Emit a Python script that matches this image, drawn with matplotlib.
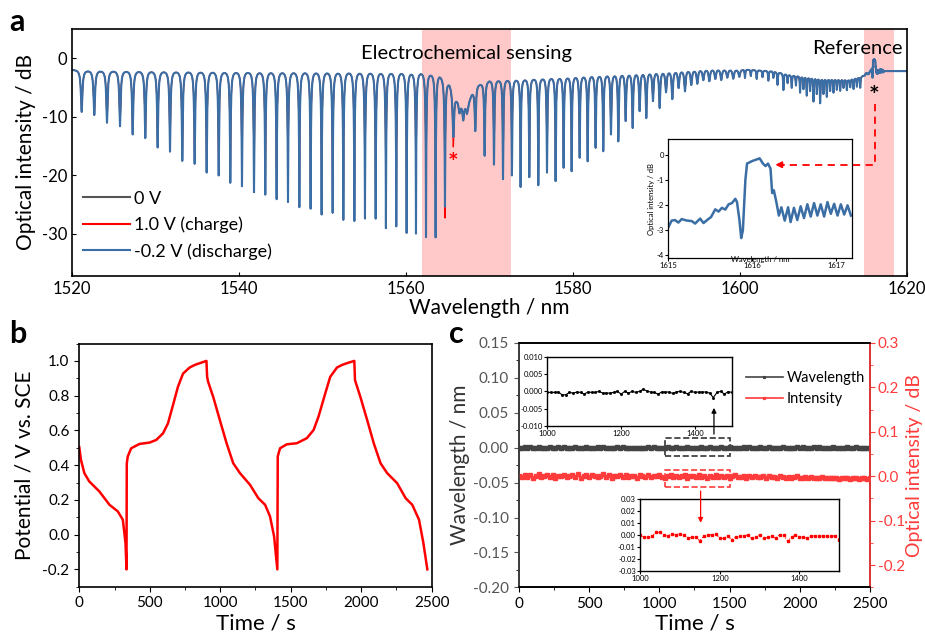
import numpy as np
import matplotlib
matplotlib.use('Agg')
import matplotlib.pyplot as plt
from matplotlib.patches import FancyArrowPatch, Rectangle
from matplotlib.lines import Line2D
from matplotlib.ticker import MultipleLocator

plt.rcParams['font.family'] = ['Lato', 'DejaVu Sans']
plt.rcParams['axes.unicode_minus'] = False
plt.rcParams['axes.linewidth'] = 1.2

# ---------------- Panel a data ----------------
# top (envelope) level of the transmission spectrum
env_wl = [1520, 1540, 1562, 1564.0, 1565.2, 1566.0, 1566.5, 1567.4, 1567.9, 1568.6, 1570, 1575,
          1581, 1589, 1597, 1601, 1604, 1606, 1610, 1613, 1615.0]
env_db = [-1.9, -2.0, -2.0, -2.4, -3.8, -6.4, -7.6, -7.8, -5.8, -4.3, -3.5, -3.2,
          -2.7, -2.1, -1.7, -1.9, -2.2, -2.8, -3.4, -3.6, -2.9]

# resonance dips (wavelength / nm, bottom level / dB) for -0.2 V (discharge)
dip1_wl = [1521.16, 1522.67, 1524.19, 1525.75, 1527.27, 1528.78, 1530.26, 1531.74, 1533.21,
           1534.69, 1536.13, 1537.57, 1538.96, 1540.36, 1541.80, 1543.15, 1544.51, 1545.87,
           1547.23, 1548.58, 1549.90, 1551.22, 1552.50, 1553.82, 1555.09, 1556.37, 1557.60,
           1558.84, 1560.08, 1561.20, 1562.40, 1563.55, 1564.67, 1565.67]
dip1_db = [-9.1, -9.6, -10.9, -11.5, -12.9, -13.5, -15.1, -15.8, -17.4, -17.9, -19.4, -19.9,
           -21.1, -21.7, -22.7, -23.2, -24.0, -24.5, -25.4, -25.5, -26.5, -26.2, -27.4, -27.6,
           -27.4, -27.4, -28.8, -28.5, -29.6, -29.7, -30.3, -30.8, -25.2, -13.2]
dip2_wl = [1566.40, 1566.86, 1567.30, 1568.30, 1569.42, 1570.54, 1571.62, 1572.69, 1573.73,
           1574.77, 1575.85, 1576.89, 1577.92, 1578.88, 1579.84, 1580.80, 1581.76, 1582.71,
           1583.63, 1584.55, 1585.43, 1586.31, 1587.15, 1587.98, 1588.78, 1589.58, 1590.38,
           1591.14, 1591.90, 1592.65, 1593.41, 1594.17, 1594.89, 1595.61, 1596.33, 1597.05,
           1597.76, 1598.48, 1599.20, 1599.92]
dip2_db = [-9.0, -10.3, -9.2, -12.3, -16.5, -18.0, -20.5, -19.9, -21.9, -20.2, -21.6, -19.4,
           -20.8, -18.5, -19.1, -16.8, -17.4, -15.1, -15.7, -12.8, -14.0, -10.5, -11.7, -8.8,
           -10.0, -7.1, -8.3, -5.6, -6.8, -4.9, -5.5, -4.4, -4.2, -3.6, -3.8, -3.4, -3.6,
           -3.2, -3.4, -3.1]
dip3_wl = [1600.6, 1601.3, 1602.0, 1602.7, 1603.4, 1604.0, 1604.5, 1605.2, 1605.7, 1606.2,
           1606.7, 1607.2, 1607.6, 1608.0, 1608.4, 1608.8, 1609.2, 1609.6, 1610.0, 1610.4,
           1610.8, 1611.2, 1611.6, 1612.0, 1612.4, 1612.8, 1613.2, 1613.6, 1614.0, 1614.4]
dip3_db = [-3.3, -3.0, -3.5, -3.2, -3.8, -3.3, -4.5, -5.4, -4.2, -5.0, -4.6, -5.8, -5.2, -6.3,
           -5.5, -7.3, -6.0, -7.6, -6.0, -6.5, -5.5, -5.8, -5.3, -5.5, -5.0, -5.4, -4.9, -5.2,
           -4.8, -5.0]
# 1.0 V (charge) differs at two dips
red_dip_wl = [1564.67, 1565.67]
red_dip_db = [-27.2, -14.9]

# reference grating peak (also shown in the inset)
ref_wl = [1615.0, 1615.04, 1615.08, 1615.12, 1615.16, 1615.22, 1615.28, 1615.32, 1615.38, 1615.42,
          1615.47, 1615.51, 1615.56, 1615.60, 1615.64, 1615.68, 1615.72, 1615.76, 1615.80, 1615.82,
          1615.85, 1615.87, 1615.89, 1615.92, 1615.94, 1616.0, 1616.06, 1616.09, 1616.13, 1616.16,
          1616.19, 1616.22, 1616.24, 1616.26, 1616.29, 1616.32, 1616.35, 1616.39, 1616.43, 1616.46,
          1616.50, 1616.54, 1616.58, 1616.62, 1616.66, 1616.70, 1616.74, 1616.78, 1616.82, 1616.86,
          1616.90, 1616.94, 1616.98, 1617.02, 1617.06, 1617.10, 1617.14, 1617.18]
ref_db = [-2.89, -2.62, -2.60, -2.70, -2.56, -2.62, -2.64, -2.74, -2.54, -2.72,
          -2.58, -2.48, -2.17, -2.26, -2.11, -2.18, -1.97, -1.92, -1.75, -1.88,
          -2.62, -3.32, -3.02, -1.00, -0.34, -0.24, -0.17, -0.13, -0.34, -0.44,
          -0.34, -0.54, -1.52, -1.41, -1.88, -2.42, -2.09, -2.62, -2.09, -2.68,
          -2.11, -2.60, -2.05, -2.52, -1.97, -2.46, -1.92, -2.42, -1.97, -2.46,
          -1.88, -2.35, -1.95, -2.42, -1.97, -2.38, -2.01, -2.42]
tail_wl = [1617.25, 1620.0]
tail_db = [-2.2, -2.2]

# ---------------- Panel b data ----------------
t_b = [0, 12, 36, 71, 142, 214, 273, 309, 328, 335, 337, 344, 368, 427, 499, 546, 594, 629, 665,
       700, 736, 783, 820, 855, 902, 907, 914, 950, 997, 1045, 1092, 1140, 1211, 1270, 1318, 1353,
       1382, 1405, 1408, 1424, 1472, 1543, 1614, 1662, 1697, 1745, 1780, 1828, 1865, 1899, 1951,
       1956, 1994, 2042, 2089, 2137, 2184, 2255, 2315, 2362, 2410, 2441, 2469]
v_b = [0.503, 0.43, 0.354, 0.306, 0.249, 0.172, 0.134, 0.086, -0.048, -0.2, 0.41, 0.45, 0.497,
       0.522, 0.53, 0.545, 0.583, 0.64, 0.746, 0.851, 0.927, 0.962, 0.977, 0.987, 1.0, 0.908,
       0.88, 0.793, 0.66, 0.526, 0.411, 0.354, 0.287, 0.21, 0.172, 0.105, -0.01, -0.2, 0.45,
       0.497, 0.52, 0.526, 0.555, 0.602, 0.679, 0.813, 0.908, 0.962, 0.977, 0.987, 1.0, 0.889,
       0.793, 0.66, 0.526, 0.411, 0.354, 0.296, 0.21, 0.172, 0.086, -0.048, -0.2]

# ---------------- Panel c data ----------------
wl_shift_main = [0.0, -0.3, 0.4, -0.2, 0.6, -0.5, 0.1, 0.3, -0.4, 0.2, -0.1, 0.5, -0.6, 0.0, 0.3,
                 -0.2, 0.4, -0.3, 0.1, -0.5, 0.6, 0.2, -0.3, 0.0, 0.4, -0.4, 0.2, -0.1, 0.3, -0.2,
                 0.5, -0.3, 0.1, 0.0, -0.4, 0.3, -0.2, 0.6, -0.1, 0.2, -0.3, 0.1, -0.5, 0.2, 0.0,
                 -0.2, 0.4, -0.1, 0.3, -0.4, 0.1, 0.2, -0.3, 0.5, -0.2, 0.0, 0.3, -0.6, 0.2, -0.1,
                 0.4, -0.3, 0.1, 0.2, -0.4, 0.5, -0.2, 0.0, 0.3, -0.1, 0.2, -0.5, 0.4, -0.2, 0.1,
                 0.6, -0.3, 0.0, 0.2, -0.4, 0.3, -0.1, 0.5, -0.2, 0.1, -0.3, 0.4, 0.0, -0.2, 0.3,
                 -0.5, 0.2, 0.1, -0.1, 0.4, -0.3, 0.2, 0.0, -0.4, 0.3, -0.2, 0.5, 0.1, -0.3, 0.2,
                 0.8, -0.1, 0.3, -0.4, 0.2, 0.0, -0.2, 0.4, -0.3, 0.1, 0.2, -0.5, 0.3, -0.1, 0.0,
                 0.4, -0.2, 0.1, -0.3, 0.2, 0.0]  # 1e-3 nm
intensity_main = [0, -2, 3, -1, 2, -3, 1, 4, -2, 0, 3, -1, 2, -4, 1, 0, 3, -2, 1, 2, -1, 4, -3, 0,
                  2, -1, 3, 1, -2, 0, 4, -1, 2, -3, 1, 0, 2, -2, 3, -1, 0, 1, -3, 2, 0, -1, 3, -2,
                  1, 0, 2, -1, -3, 0, 2, -2, 1, -1, 0, 2, -3, 0, 1, -2, 2, -1, 0, -3, 1, -1, 2, -2,
                  0, -1, 1, -3, 0, 2, -2, -1, 0, -3, 1, -2, 0, -1, -2, 1, -3, 0, -2, -1, -3, 0, -2,
                  -4, -1, -3, -2, 0, -3, -4, -2, -3, -1, -4, -3, -5, -2, -4, -3, -5, -4, -3, -6, -4,
                  -5, -3, -6, -4, -5, -6, -4, -5, -7, -5]  # 1e-3 dB
wl_shift_zoom = [-0.0003, -0.0003, -0.0003, -0.0002, -0.001, -0.001, -0.0003, -0.0005, -0.0002,
                 -0.0003, -0.0008, -0.0002, -0.0003, -0.0003, 0.0, -0.0005, -0.0005, -0.0005,
                 -0.0003, 0.0, -0.0008, 0.0, -0.0005, 0.0, -0.0003, 0.0, 0.0006, 0.0001, -0.0002,
                 -0.0003, -0.0008, -0.0002, -0.0002, -0.0002, -0.0006, -0.0002, 0.0, -0.0003,
                 -0.0007, 0.0, -0.0003, -0.0002, -0.0002, -0.0002, -0.0005, -0.0018, -0.0003, 0.0,
                 -0.0008, -0.0001, -0.0003]
intensity_zoom = [0.0, -0.002, -0.002, -0.001, 0.002, 0.002, 0.0, -0.001, 0.001, 0.0, 0.001, 0.0,
                  -0.003, -0.002, -0.002, -0.005, -0.001, 0.0, 0.0, 0.001, -0.003, -0.003, -0.001,
                  -0.004, -0.002, -0.001, -0.001, 0.0, -0.003, -0.002, 0.0, -0.003, -0.002, -0.001,
                  -0.003, 0.0, 0.0, -0.005, -0.002, 0.0, -0.002, -0.002, -0.003, -0.001, -0.001,
                  -0.001, -0.001, -0.001, -0.001, -0.001, -0.004]

BLUE = '#3A6EA5'
RED = '#FF0000'
GRAY = '#555555'
PINK = '#FFC9C9'
CRED = '#FF3B3B'

fig = plt.figure(figsize=(9.25, 6.35), dpi=100)

# ================= Panel a =================
axA = fig.add_axes([0.0778, 0.5654, 0.9027, 0.389])
axA.axvspan(1561.9, 1572.6, color=PINK, lw=0, zorder=0)
axA.axvspan(1614.9, 1618.5, color=PINK, lw=0, zorder=0)

lam = np.arange(1520.0, 1615.0, 0.004)


def spectrum(dwl, ddb, gam):
    env = np.interp(lam, env_wl, env_db)
    out = env.copy()
    for w, d, g in zip(dwl, ddb, gam):
        rel = d - np.interp(w, env_wl, env_db)
        a = 1 - 10 ** (rel / 10.0)
        out += 10 * np.log10(1 - a / (1 + ((lam - w) / g) ** 2))
    return out


gam_all = [0.16] * len(dip1_wl) + [0.12] * len(dip2_wl) + [0.05] * len(dip3_wl)
wl_all = dip1_wl + dip2_wl + dip3_wl
db_blue = dip1_db + dip2_db + dip3_db
db_red = list(db_blue)
for w, d in zip(red_dip_wl, red_dip_db):
    db_red[wl_all.index(w)] = d

spec_blue = spectrum(wl_all, db_blue, gam_all)
spec_red = spectrum(wl_all, db_red, gam_all)

x_full = np.concatenate([lam, ref_wl, tail_wl])
for spec, col, lab, lw in [(spec_blue, GRAY, '0 V', 0.9), (spec_red, RED, '1.0 V (charge)', 0.9),
                           (spec_blue, BLUE, '-0.2 V (discharge)', 1.5)]:
    y_full = np.concatenate([spec, ref_db, tail_db])
    axA.plot(x_full, y_full, color=col, lw=lw, label=lab)

axA.set_xlim(1520, 1620)
axA.set_ylim(-37.2, 5.0)
axA.set_xticks([1520, 1540, 1560, 1580, 1600, 1620])
axA.set_yticks([0, -10, -20, -30])
axA.tick_params(direction='in', length=3, labelsize=12)
axA.set_xlabel('Wavelength / nm', fontsize=15, labelpad=1)
axA.set_ylabel('Optical intensity / dB', fontsize=15, labelpad=4)
leg = axA.legend(loc='lower left', bbox_to_anchor=(-0.006, 0.0), frameon=False, fontsize=13,
                 handlelength=2.6, handletextpad=0.2, labelspacing=0.55)
for h in leg.get_lines():
    h.set_linewidth(1.5)
axA.text(1567.2, -0.6, 'Electrochemical sensing', fontsize=14.5, ha='center', va='bottom')
axA.text(1619.5, 0.2, 'Reference', fontsize=14.5, ha='right', va='bottom')
axA.text(1565.6, -18.0, '*', color=RED, fontsize=18, fontweight='bold', ha='center', va='center')
axA.text(1616.1, -6.5, '*', color='black', fontsize=18, fontweight='bold', ha='center', va='center')

# inset of panel a
axAi = fig.add_axes([0.7225, 0.5932, 0.1983, 0.1874])
axAi.plot(ref_wl, ref_db, color=BLUE, lw=1.8)
axAi.set_xlim(1615, 1617.19)
axAi.set_ylim(-4.13, 0.63)
axAi.set_xticks([1615, 1616, 1617])
axAi.set_yticks([0, -1, -2, -3, -4])
axAi.tick_params(labelsize=5.5, length=2, pad=1)
axAi.set_xlabel('Wavelength / nm', fontsize=5.5, labelpad=-10)
axAi.set_ylabel('Optical intensity / dB', fontsize=5.5, labelpad=1)
for s in axAi.spines.values():
    s.set_linewidth(0.9)

fig.add_artist(Line2D([1616.17, 1616.17, 1605.0], [-7.8, -18.2, -18.2], ls='--', lw=1.3,
                      color=RED, transform=axA.transData, dashes=(4, 3)))
fig.add_artist(FancyArrowPatch((1605.6, -18.2), (1603.9, -18.2), arrowstyle='-|>',
                               mutation_scale=9, color=RED, lw=1.3, transform=axA.transData))

# ================= Panel b =================
axB = fig.add_axes([0.0857, 0.076, 0.381, 0.383])
axB.plot(t_b, v_b, color=RED, lw=1.8)
axB.set_xlim(0, 2500)
axB.set_ylim(-0.3, 1.1)
axB.xaxis.set_major_locator(MultipleLocator(500))
axB.xaxis.set_minor_locator(MultipleLocator(250))
axB.set_yticks([-0.2, 0.0, 0.2, 0.4, 0.6, 0.8, 1.0])
axB.set_yticklabels(['-0.2', '0.0', '0.2', '0.4', '0.6', '0.8', '1.0'])
axB.yaxis.set_minor_locator(MultipleLocator(0.1))
axB.tick_params(which='major', direction='out', length=3.5, labelsize=11)
axB.tick_params(which='minor', direction='out', length=2)
axB.set_xlabel('Time / s', fontsize=16, labelpad=2)
axB.set_ylabel('Potential / V vs. SCE', fontsize=15, labelpad=6)

# ================= Panel c =================
axC = fig.add_axes([0.561, 0.075, 0.3795, 0.385])
axC2 = axC.twinx()
t_main = np.linspace(0, 2500, len(wl_shift_main))
t_int = np.linspace(0, 2500, len(intensity_main))
lc1, = axC.plot(t_main, np.array(wl_shift_main) * 1e-3, color='#444444', lw=1.2, marker='s',
                ms=2.2, label='Wavelength')
lc2, = axC2.plot(t_int, np.array(intensity_main) * 1e-3, color=CRED, lw=1.2, marker='s',
                 ms=2.2, label='Intensity')
axC.set_xlim(0, 2500)
axC.set_ylim(-0.2, 0.15)
axC2.set_ylim(-0.25, 0.3)
axC.xaxis.set_major_locator(MultipleLocator(500))
axC.xaxis.set_minor_locator(MultipleLocator(250))
axC.set_yticks([-0.2, -0.15, -0.1, -0.05, 0.0, 0.05, 0.1, 0.15])
axC.set_yticklabels(['-0.20', '-0.15', '-0.10', '-0.05', '0.00', '0.05', '0.10', '0.15'])
axC.yaxis.set_minor_locator(MultipleLocator(0.025))
axC2.set_yticks([-0.2, -0.1, 0.0, 0.1, 0.2, 0.3])
axC2.set_yticklabels(['-0.2', '-0.1', '0.0', '0.1', '0.2', '0.3'])
axC2.yaxis.set_minor_locator(MultipleLocator(0.05))
axC.tick_params(which='major', direction='out', length=3.5, labelsize=11)
axC.tick_params(axis='y', colors='#555555', labelcolor='#555555')
axC.tick_params(axis='x', labelcolor='black')
axC.tick_params(which='minor', direction='out', length=2)
axC2.tick_params(which='major', direction='out', length=3.5, labelsize=11, colors=CRED, pad=2)
axC2.tick_params(which='minor', direction='out', length=2, colors=CRED)
axC2.spines['right'].set_color(CRED)
axC2.spines['left'].set_color('#444444')
axC.set_xlabel('Time / s', fontsize=16, labelpad=2)
axC.set_ylabel('Wavelength / nm', fontsize=15, color='#333333', labelpad=2)
axC2.set_ylabel('Optical intensity / dB', fontsize=14, color=CRED, labelpad=1)
leg2 = axC2.legend([lc1, lc2], ['Wavelength', 'Intensity'], loc='upper left',
                   bbox_to_anchor=(0.61, 0.94), frameon=False, fontsize=10.5, handlelength=2.5,
                   handletextpad=0.25, labelspacing=0.5, markerscale=0.6)

axC.add_patch(Rectangle((1040, -0.0121), 460, 0.0262, fill=False, ls='--', lw=1.2,
                        edgecolor='#333333'))
axC2.add_patch(Rectangle((1040, -0.025), 460, 0.039, fill=False, ls='--', lw=1.2,
                         edgecolor=CRED))

# insets of panel c
axCi1 = fig.add_axes([0.5917, 0.3291, 0.1994, 0.1092])
axCi1.plot(np.linspace(1000, 1500, len(wl_shift_zoom)), wl_shift_zoom, color='black', lw=0.8,
           marker='s', ms=1.0)
axCi1.set_xlim(1000, 1500)
axCi1.set_ylim(-0.01, 0.01)
axCi1.set_xticks([1000, 1200, 1400])
axCi1.set_yticks([-0.01, -0.005, 0.0, 0.005, 0.01])
axCi1.set_yticklabels(['-0.010', '-0.005', '0.000', '0.005', '0.010'])
axCi1.tick_params(labelsize=5.5, length=2, pad=1)

axCi2 = fig.add_axes([0.6919, 0.1013, 0.2155, 0.1129])
axCi2.plot(np.linspace(1000, 1500, len(intensity_zoom)), intensity_zoom, color=RED, lw=0.8,
           ls=':', marker='s', ms=1.6)
axCi2.set_xlim(1000, 1500)
axCi2.set_ylim(-0.03, 0.03)
axCi2.set_xticks([1000, 1200, 1400])
axCi2.set_yticks([-0.03, -0.02, -0.01, 0.0, 0.01, 0.02, 0.03])
axCi2.set_yticklabels(['-0.03', '-0.02', '-0.01', '0.00', '0.01', '0.02', '0.03'])
axCi2.tick_params(labelsize=5.5, length=2, pad=1)
for ax in (axCi1, axCi2):
    for s in ax.spines.values():
        s.set_linewidth(1.0)

fig.add_artist(FancyArrowPatch((1389, 0.0155), (1389, 0.061), arrowstyle='-|>',
                               mutation_scale=7, color='black', lw=0.9,
                               transform=axC.transData))
fig.add_artist(FancyArrowPatch((1294, -0.027), (1294, -0.111), arrowstyle='-|>',
                               mutation_scale=7, color=RED, lw=0.9,
                               transform=axC2.transData))

# panel labels
fig.text(0.010, 0.951, 'a', fontsize=22, fontweight='bold', va='baseline')
fig.text(0.010, 0.460, 'b', fontsize=22, fontweight='bold', va='baseline')
fig.text(0.485, 0.460, 'c', fontsize=22, fontweight='bold', va='baseline')

fig.savefig('out.png', dpi=100)
